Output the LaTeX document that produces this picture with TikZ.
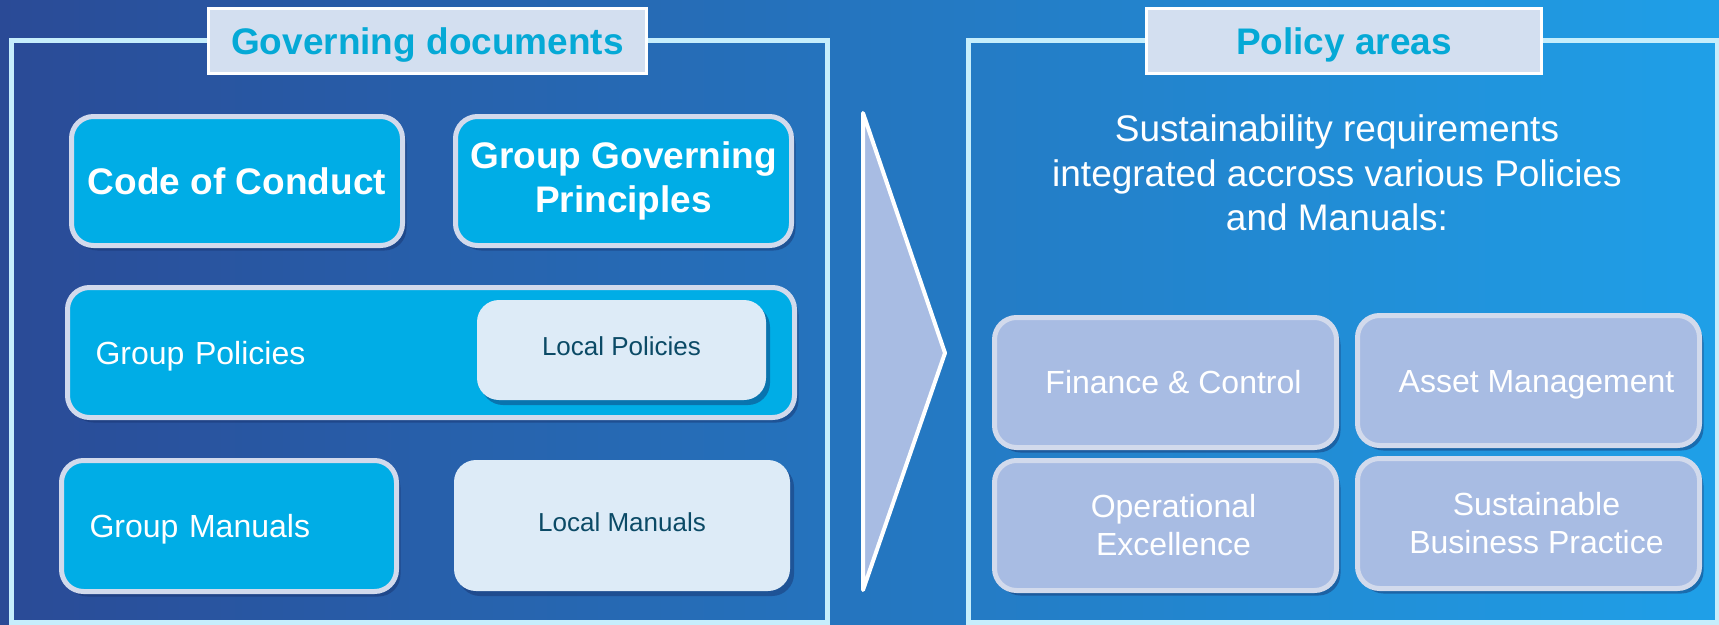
\documentclass[tikz,border=0pt]{standalone}
\usepackage{fontspec}
\setmainfont{Liberation Sans}
\usepackage{tikz}
\usetikzlibrary{positioning,shadows}

\definecolor{bgleft}{HTML}{2A4A96}
\definecolor{bgmid}{HTML}{2680C8}
\definecolor{bgright}{HTML}{1FA0E8}
\definecolor{framecol}{HTML}{C6EEFC}
\definecolor{titlefill}{HTML}{D3DFF0}
\definecolor{titletext}{HTML}{05A9D6}
\definecolor{groupfill}{HTML}{00ADE6}
\definecolor{boxrim}{HTML}{D2DAEC}
\definecolor{localfill}{HTML}{DDEBF7}
\definecolor{localtext}{HTML}{0B4A66}
\definecolor{areafill}{HTML}{A8BCE3}
\definecolor{shadowcol}{HTML}{16306A}

\tikzset{
  frame/.style={draw=framecol, line width=5pt},
  titlebox/.style={rectangle, draw=white, line width=3pt, fill=titlefill, text=titletext,
    font=\fontsize{37}{44}\selectfont\bfseries, inner sep=0pt, text height=27pt, text depth=0pt},
  boxshadow/.style={drop shadow={shadow xshift=4pt, shadow yshift=-5pt, fill=shadowcol, opacity=0.45}},
  groupbox/.style={rectangle, rounded corners=22pt, draw=boxrim, line width=5pt, fill=groupfill,
    text=white, inner sep=0pt, align=center, boxshadow},
  localbox/.style={rectangle, rounded corners=22pt, fill=localfill, text=localtext,
    font=\fontsize{26}{31}\selectfont, inner sep=0pt, align=center, text height=19pt, boxshadow},
  areabox/.style={rectangle, rounded corners=22pt, draw=boxrim, line width=5pt, fill=areafill,
    text=white, font=\fontsize{32}{38}\selectfont, inner sep=0pt, align=center, boxshadow},
}

\begin{document}
\begin{tikzpicture}[x=1pt, y={(0pt,-1pt)}]
  % backdrop
  \fill[left color=bgleft, middle color=bgmid, right color=bgright] (0,0) rectangle (1719,624);
  \useasboundingbox (0,0) rectangle (1719,624);

  % the two panels
  \draw[frame] (11,40) rectangle (827,622);
  \draw[frame] (968,40) rectangle (1717,622);
  \node[titlebox, minimum width=438pt, minimum height=65pt] (govtitle) at (427.5,41) {Governing documents};
  \node[titlebox, minimum width=395pt, minimum height=65pt] (areatitle) at (1344,41) {Policy areas};

  % governing documents
  \node[groupbox, font=\fontsize{37}{44}\selectfont\bfseries, minimum width=331pt, minimum height=129pt] (code) at (237,181) {Code of Conduct};
  \node[groupbox, font=\fontsize{37}{44}\selectfont\bfseries, minimum width=336pt, minimum height=129pt] (principles) at (623.5,181) {Group Governing\\Principles};
  \node[groupbox, font=\fontsize{32}{38}\selectfont, minimum width=727pt, minimum height=130pt,
    inner xsep=28pt, text width=671pt, align=left, text height=23pt, text depth=0pt] (grouppol) at (431,352.5) {Group Policies};
  \node[localbox, minimum width=289pt, minimum height=100pt, text depth=9pt] (localpol) at (621.5,350) {Local Policies};
  \node[groupbox, font=\fontsize{32}{38}\selectfont, minimum width=335pt, minimum height=131pt,
    inner xsep=28pt, text width=279pt, align=left, text height=23pt, text depth=0pt] (groupman) at (229,526) {Group Manuals};
  \node[localbox, minimum width=336pt, minimum height=131pt, text depth=7pt] (localman) at (622,525.5) {Local Manuals};

  % arrow between the panels
  \coordinate (arrtop) at (863,113);
  \coordinate (arrtip) at (945,353);
  \coordinate (arrbot) at (863,590);
  \draw[draw=white, line width=4pt, fill=areafill, line join=round] (arrtop) -- (arrtip) -- (arrbot) -- cycle;

  % policy areas
  \node[text=white, font=\fontsize{37}{44.5}\selectfont, align=center] (intro) at (1337,173)
    {Sustainability requirements\\integrated accross various Policies\\and Manuals:};
  \node[areabox, minimum width=342pt, minimum height=130pt] (finance) at (1165.5,382.5) {\hspace{16pt}Finance \& Control};
  \node[areabox, minimum width=342pt, minimum height=130pt, text height=23pt, text depth=0pt] (asset) at (1528.5,380.5) {\hspace{16pt}Asset Management};
  \node[areabox, minimum width=342pt, minimum height=130pt] (operational) at (1165.5,525.5) {\hspace{16pt}Operational\\\hspace{16pt}Excellence};
  \node[areabox, minimum width=342pt, minimum height=130pt] (sustainable) at (1528.5,523.5) {\hspace{16pt}Sustainable\\\hspace{16pt}Business Practice};
\end{tikzpicture}
\end{document}
